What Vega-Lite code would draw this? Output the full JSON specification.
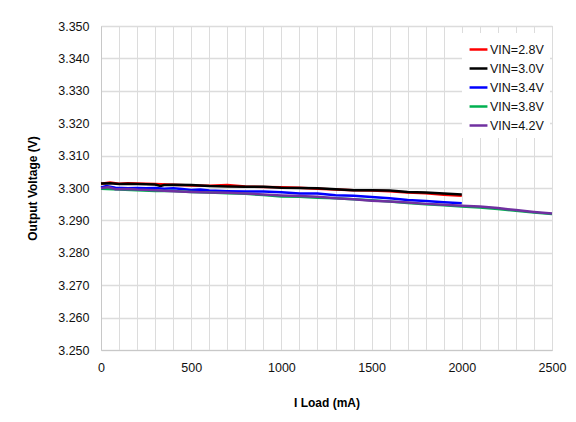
{
  "$schema": "https://vega.github.io/schema/vega-lite/v6.json",
  "autosize": "none",
  "width": 451,
  "height": 324,
  "padding": {"left": 101, "top": 26, "right": 24, "bottom": 72},
  "background": "white",
  "config": {
    "font": "Liberation Sans",
    "view": {"stroke": "#d0d0d0"}
  },
  "datasets": {
    "pts": [
      {"s": "VIN=2.8V", "i": 0, "v": 3.3013}, {"s": "VIN=2.8V", "i": 50, "v": 3.3017}, {"s": "VIN=2.8V", "i": 100, "v": 3.3013}, {"s": "VIN=2.8V", "i": 150, "v": 3.3015}, {"s": "VIN=2.8V", "i": 200, "v": 3.3014}, {"s": "VIN=2.8V", "i": 300, "v": 3.3012}, {"s": "VIN=2.8V", "i": 400, "v": 3.3010}, {"s": "VIN=2.8V", "i": 500, "v": 3.3008}, {"s": "VIN=2.8V", "i": 600, "v": 3.3007}, {"s": "VIN=2.8V", "i": 700, "v": 3.3009}, {"s": "VIN=2.8V", "i": 800, "v": 3.3005}, {"s": "VIN=2.8V", "i": 900, "v": 3.3003}, {"s": "VIN=2.8V", "i": 1000, "v": 3.3002}, {"s": "VIN=2.8V", "i": 1100, "v": 3.3001}, {"s": "VIN=2.8V", "i": 1200, "v": 3.2998}, {"s": "VIN=2.8V", "i": 1300, "v": 3.2995}, {"s": "VIN=2.8V", "i": 1400, "v": 3.2993}, {"s": "VIN=2.8V", "i": 1500, "v": 3.2992}, {"s": "VIN=2.8V", "i": 1600, "v": 3.2990}, {"s": "VIN=2.8V", "i": 1700, "v": 3.2986}, {"s": "VIN=2.8V", "i": 1800, "v": 3.2984}, {"s": "VIN=2.8V", "i": 1900, "v": 3.2979}, {"s": "VIN=2.8V", "i": 2000, "v": 3.2976},
      {"s": "VIN=3.0V", "i": 0, "v": 3.3014}, {"s": "VIN=3.0V", "i": 50, "v": 3.3015}, {"s": "VIN=3.0V", "i": 100, "v": 3.3012}, {"s": "VIN=3.0V", "i": 150, "v": 3.3013}, {"s": "VIN=3.0V", "i": 200, "v": 3.3012}, {"s": "VIN=3.0V", "i": 300, "v": 3.3011}, {"s": "VIN=3.0V", "i": 330, "v": 3.3006}, {"s": "VIN=3.0V", "i": 350, "v": 3.3009}, {"s": "VIN=3.0V", "i": 400, "v": 3.3010}, {"s": "VIN=3.0V", "i": 500, "v": 3.3009}, {"s": "VIN=3.0V", "i": 550, "v": 3.3008}, {"s": "VIN=3.0V", "i": 600, "v": 3.3006}, {"s": "VIN=3.0V", "i": 700, "v": 3.3005}, {"s": "VIN=3.0V", "i": 800, "v": 3.3004}, {"s": "VIN=3.0V", "i": 900, "v": 3.3004}, {"s": "VIN=3.0V", "i": 1000, "v": 3.3001}, {"s": "VIN=3.0V", "i": 1100, "v": 3.3000}, {"s": "VIN=3.0V", "i": 1200, "v": 3.2999}, {"s": "VIN=3.0V", "i": 1300, "v": 3.2996}, {"s": "VIN=3.0V", "i": 1400, "v": 3.2993}, {"s": "VIN=3.0V", "i": 1500, "v": 3.2993}, {"s": "VIN=3.0V", "i": 1600, "v": 3.2992}, {"s": "VIN=3.0V", "i": 1700, "v": 3.2988}, {"s": "VIN=3.0V", "i": 1800, "v": 3.2986}, {"s": "VIN=3.0V", "i": 1900, "v": 3.2983}, {"s": "VIN=3.0V", "i": 2000, "v": 3.2980},
      {"s": "VIN=3.4V", "i": 0, "v": 3.3002}, {"s": "VIN=3.4V", "i": 30, "v": 3.3006}, {"s": "VIN=3.4V", "i": 80, "v": 3.3001}, {"s": "VIN=3.4V", "i": 150, "v": 3.2999}, {"s": "VIN=3.4V", "i": 200, "v": 3.3000}, {"s": "VIN=3.4V", "i": 250, "v": 3.2999}, {"s": "VIN=3.4V", "i": 300, "v": 3.3000}, {"s": "VIN=3.4V", "i": 350, "v": 3.2998}, {"s": "VIN=3.4V", "i": 400, "v": 3.2999}, {"s": "VIN=3.4V", "i": 450, "v": 3.2997}, {"s": "VIN=3.4V", "i": 500, "v": 3.2994}, {"s": "VIN=3.4V", "i": 550, "v": 3.2995}, {"s": "VIN=3.4V", "i": 600, "v": 3.2992}, {"s": "VIN=3.4V", "i": 700, "v": 3.2990}, {"s": "VIN=3.4V", "i": 800, "v": 3.2989}, {"s": "VIN=3.4V", "i": 900, "v": 3.2989}, {"s": "VIN=3.4V", "i": 1000, "v": 3.2987}, {"s": "VIN=3.4V", "i": 1100, "v": 3.2983}, {"s": "VIN=3.4V", "i": 1200, "v": 3.2983}, {"s": "VIN=3.4V", "i": 1300, "v": 3.2978}, {"s": "VIN=3.4V", "i": 1400, "v": 3.2976}, {"s": "VIN=3.4V", "i": 1500, "v": 3.2972}, {"s": "VIN=3.4V", "i": 1600, "v": 3.2968}, {"s": "VIN=3.4V", "i": 1700, "v": 3.2963}, {"s": "VIN=3.4V", "i": 1800, "v": 3.2960}, {"s": "VIN=3.4V", "i": 1900, "v": 3.2956}, {"s": "VIN=3.4V", "i": 2000, "v": 3.2953},
      {"s": "VIN=3.8V", "i": 0, "v": 3.2998}, {"s": "VIN=3.8V", "i": 100, "v": 3.2995}, {"s": "VIN=3.8V", "i": 200, "v": 3.2993}, {"s": "VIN=3.8V", "i": 300, "v": 3.2991}, {"s": "VIN=3.8V", "i": 400, "v": 3.2991}, {"s": "VIN=3.8V", "i": 500, "v": 3.2988}, {"s": "VIN=3.8V", "i": 600, "v": 3.2986}, {"s": "VIN=3.8V", "i": 700, "v": 3.2984}, {"s": "VIN=3.8V", "i": 800, "v": 3.2982}, {"s": "VIN=3.8V", "i": 900, "v": 3.2978}, {"s": "VIN=3.8V", "i": 1000, "v": 3.2974}, {"s": "VIN=3.8V", "i": 1100, "v": 3.2973}, {"s": "VIN=3.8V", "i": 1200, "v": 3.2970}, {"s": "VIN=3.8V", "i": 1300, "v": 3.2968}, {"s": "VIN=3.8V", "i": 1400, "v": 3.2965}, {"s": "VIN=3.8V", "i": 1500, "v": 3.2962}, {"s": "VIN=3.8V", "i": 1600, "v": 3.2958}, {"s": "VIN=3.8V", "i": 1700, "v": 3.2954}, {"s": "VIN=3.8V", "i": 1800, "v": 3.2950}, {"s": "VIN=3.8V", "i": 1900, "v": 3.2947}, {"s": "VIN=3.8V", "i": 2000, "v": 3.2943}, {"s": "VIN=3.8V", "i": 2100, "v": 3.2940}, {"s": "VIN=3.8V", "i": 2200, "v": 3.2935}, {"s": "VIN=3.8V", "i": 2300, "v": 3.2930}, {"s": "VIN=3.8V", "i": 2400, "v": 3.2924}, {"s": "VIN=3.8V", "i": 2500, "v": 3.2920},
      {"s": "VIN=4.2V", "i": 0, "v": 3.2999}, {"s": "VIN=4.2V", "i": 40, "v": 3.3003}, {"s": "VIN=4.2V", "i": 80, "v": 3.2996}, {"s": "VIN=4.2V", "i": 150, "v": 3.2997}, {"s": "VIN=4.2V", "i": 200, "v": 3.2995}, {"s": "VIN=4.2V", "i": 300, "v": 3.2993}, {"s": "VIN=4.2V", "i": 400, "v": 3.2990}, {"s": "VIN=4.2V", "i": 500, "v": 3.2988}, {"s": "VIN=4.2V", "i": 600, "v": 3.2986}, {"s": "VIN=4.2V", "i": 700, "v": 3.2985}, {"s": "VIN=4.2V", "i": 800, "v": 3.2983}, {"s": "VIN=4.2V", "i": 900, "v": 3.2980}, {"s": "VIN=4.2V", "i": 1000, "v": 3.2977}, {"s": "VIN=4.2V", "i": 1100, "v": 3.2975}, {"s": "VIN=4.2V", "i": 1200, "v": 3.2973}, {"s": "VIN=4.2V", "i": 1300, "v": 3.2968}, {"s": "VIN=4.2V", "i": 1400, "v": 3.2965}, {"s": "VIN=4.2V", "i": 1500, "v": 3.2961}, {"s": "VIN=4.2V", "i": 1600, "v": 3.2958}, {"s": "VIN=4.2V", "i": 1700, "v": 3.2955}, {"s": "VIN=4.2V", "i": 1800, "v": 3.2951}, {"s": "VIN=4.2V", "i": 1900, "v": 3.2948}, {"s": "VIN=4.2V", "i": 2000, "v": 3.2945}, {"s": "VIN=4.2V", "i": 2100, "v": 3.2943}, {"s": "VIN=4.2V", "i": 2200, "v": 3.2938}, {"s": "VIN=4.2V", "i": 2300, "v": 3.2932}, {"s": "VIN=4.2V", "i": 2400, "v": 3.2926}, {"s": "VIN=4.2V", "i": 2500, "v": 3.2921}
    ]
  },
  "data": {"name": "pts"},
  "mark": {"type": "line", "strokeWidth": 2.5, "interpolate": "linear"},
  "encoding": {
    "x": {
      "field": "i", "type": "quantitative",
      "scale": {"domain": [0, 2500], "nice": false},
      "axis": {
        "title": "I Load (mA)",
        "titleFontSize": 12, "titleFontWeight": "bold", "titleColor": "#000", "titlePadding": 24,
        "values": [0,100,200,300,400,500,600,700,800,900,1000,1100,1200,1300,1400,1500,1600,1700,1800,1900,2000,2100,2200,2300,2400,2500],
        "labelExpr": "datum.value % 500 === 0 ? datum.label : ''",
        "format": "d",
        "labelFontSize": 12.5, "labelColor": "#111", "labelPadding": 11,
        "ticks": false,
        "grid": true, "gridColor": "#dcdcdc", "gridWidth": 1,
        "domainColor": "#c8c8c8",
        "labelFlush": false
      }
    },
    "y": {
      "field": "v", "type": "quantitative",
      "scale": {"domain": [3.25, 3.35], "nice": false, "zero": false},
      "axis": {
        "title": "Output Voltage (V)",
        "titleFontSize": 12, "titleFontWeight": "bold", "titleColor": "#000", "titlePadding": 18,
        "values": [3.25,3.26,3.27,3.28,3.29,3.30,3.31,3.32,3.33,3.34,3.35],
        "format": ".3f",
        "labelFontSize": 12.5, "labelColor": "#111", "labelPadding": 12,
        "ticks": false,
        "grid": true, "gridColor": "#dcdcdc", "gridWidth": 1.5,
        "domainColor": "#c8c8c8"
      }
    },
    "color": {
      "field": "s", "type": "nominal",
      "scale": {
        "domain": ["VIN=2.8V", "VIN=3.0V", "VIN=3.4V", "VIN=3.8V", "VIN=4.2V"],
        "range": ["#ff0000", "#000000", "#0000ff", "#00b050", "#7030a0"]
      },
      "legend": {
        "title": null,
        "orient": "none",
        "legendX": 361,
        "legendY": 7,
        "fillColor": "white",
        "padding": 6,
        "symbolType": "stroke",
        "symbolSize": 320,
        "symbolStrokeWidth": 2.5,
        "labelFontSize": 12.5,
        "labelColor": "#111",
        "labelOffset": 1,
        "rowPadding": 2
      }
    }
  }
}
